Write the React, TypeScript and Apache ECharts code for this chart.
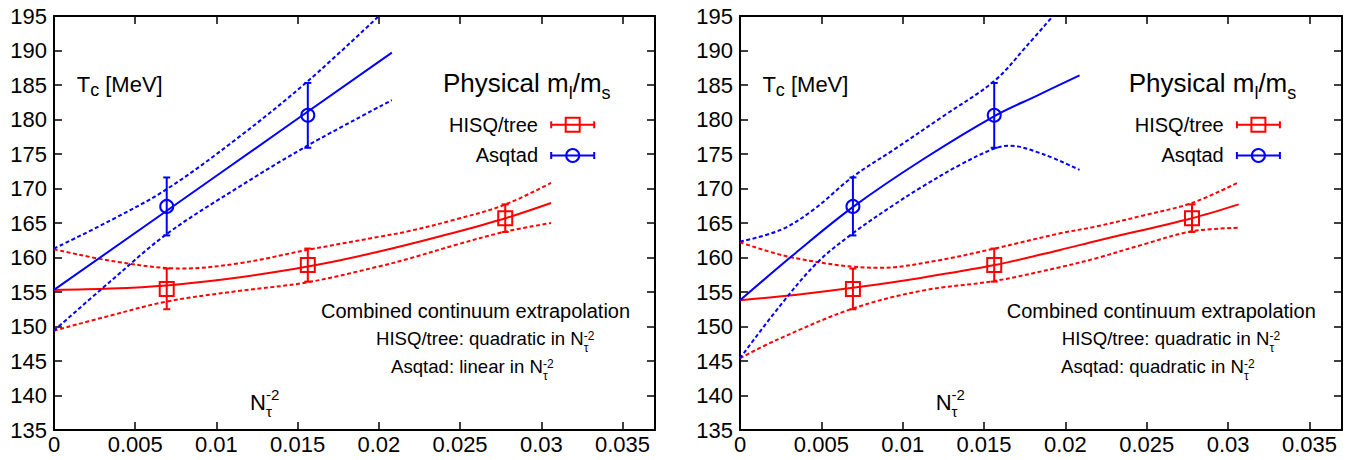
import React, { useEffect, useRef } from 'react';
import * as echarts from 'echarts';

const RED = '#ff0000';
const BLUE = '#0000ff';
const FONT = '"Liberation Sans", Arial, Helvetica, sans-serif';

// axes
const xTicks = [0, 0.005, 0.01, 0.015, 0.02, 0.025, 0.03, 0.035];
const xTickLabels = ['0', '0.005', '0.01', '0.015', '0.02', '0.025', '0.03', '0.035'];
const xMax = 0.037;
const yMin = 135;
const yMax = 195;
const yStep = 5;

// data points (N_tau^-2, Tc, error)
const hisqX = [0.00694, 0.015625, 0.02778];
const hisqT = [155.45, 158.9, 165.7];
const hisqErr = [2.95, 2.4, 2.0];
const asqX = [0.00694, 0.015625];
const asqT = [167.4, 180.6];
const asqErr = [4.2, 4.7];

// left panel: HISQ quadratic, Asqtad linear
const hisqFitLeft = [[0, 155.3], [0.0035, 155.5], [0.00694, 155.95], [0.0104, 156.8], [0.0139, 158.0], [0.0174, 159.5], [0.0208, 161.3], [0.0243, 163.4], [0.0278, 165.7], [0.0306, 167.9]];
const hisqUpperLeft = [[0, 161.2], [0.0038, 159.4], [0.0079, 158.4], [0.0115, 159.2], [0.0156, 161.1], [0.02, 163.0], [0.0218, 163.8], [0.0247, 165.5], [0.0277, 167.6], [0.0306, 170.8]];
const hisqLowerLeft = [[0, 149.4], [0.0035, 151.6], [0.0069, 153.6], [0.0112, 155.1], [0.0156, 156.4], [0.02, 158.7], [0.0218, 159.8], [0.0247, 161.8], [0.0277, 163.7], [0.0306, 165.0]];
const asqFitLeft = [[0, 155.3], [0.0104, 172.5], [0.0208, 189.7]];
const asqUpperLeft = [[0, 161.3], [0.0035, 165.4], [0.00694, 169.9], [0.0113, 177.3], [0.0156, 185.5], [0.02, 195]];
const asqLowerLeft = [[0, 149.4], [0.0035, 156.6], [0.00694, 163.4], [0.0113, 170.1], [0.0156, 176.2], [0.0208, 182.8]];

// right panel: both quadratic
const hisqFitRight = [[0, 153.8], [0.0035, 154.6], [0.00693, 155.6], [0.011, 157.0], [0.01564, 158.9], [0.01968, 161.1], [0.0219, 162.4], [0.02778, 165.7], [0.03065, 167.7]];
const hisqUpperRight = [[0, 162.2], [0.0034, 159.9], [0.0086, 158.5], [0.012, 159.5], [0.01564, 161.3], [0.01968, 163.5], [0.0219, 164.5], [0.0248, 166.1], [0.02778, 167.9], [0.03065, 170.9]];
const hisqLowerRight = [[0, 145.4], [0.0022, 148.0], [0.00693, 152.6], [0.0112, 155.2], [0.01564, 156.6], [0.01968, 158.6], [0.0219, 159.9], [0.0248, 161.9], [0.02778, 163.8], [0.03065, 164.3]];
const asqFitRight = [[0, 153.8], [0.00344, 160.7], [0.00693, 167.3], [0.01123, 174.2], [0.01564, 180.5], [0.0182, 183.4], [0.02087, 186.4]];
const asqUpperRight = [[0, 162.3], [0.0025, 164.0], [0.0045, 166.9], [0.00693, 171.7], [0.0095, 175.7], [0.0125, 180.5], [0.01564, 185.6], [0.0176, 190.6], [0.01923, 195]];
const asqLowerRight = [[0, 145.4], [0.00246, 153.0], [0.00472, 159.2], [0.00693, 163.5], [0.0095, 167.7], [0.01123, 170.3], [0.0135, 173.4], [0.01564, 175.8], [0.01653, 176.2], [0.0186, 175.0], [0.02087, 172.7]];

let measureCtx: CanvasRenderingContext2D | null = null;
function measure(text: string, size: number): number {
  if (!measureCtx) measureCtx = document.createElement('canvas').getContext('2d');
  if (!measureCtx) return text.length * size * 0.55;
  measureCtx.font = `${size}px ${FONT}`;
  return measureCtx.measureText(text).width;
}

function txt(x: number, baseline: number, text: string, size: number, align = 'left') {
  return {
    type: 'text',
    x,
    y: baseline - 0.3465 * size,
    silent: true,
    z: 100,
    style: {
      text,
      font: `${size}px ${FONT}`,
      fill: '#000',
      align,
      verticalAlign: 'middle',
      textAlign: align,
      textVerticalAlign: 'middle',
    },
  };
}

type Part = { t: string; s: number; dy?: number; stack?: boolean };
function run(x0: number, base: number, parts: Part[]): any[] {
  let x = x0;
  const out: any[] = [];
  for (let i = 0; i < parts.length; i++) {
    const p = parts[i];
    out.push(txt(x, base + (p.dy || 0), p.t, p.s));
    const w = measure(p.t, p.s);
    if (p.stack && i + 1 < parts.length) {
      const q = parts[i + 1];
      out.push(txt(x, base + (q.dy || 0), q.t, q.s));
      x += Math.max(w, measure(q.t, q.s));
      i++;
    } else {
      x += w;
    }
  }
  return out;
}

function legendSample(cx: number, cy: number, color: string, kind: 'square' | 'circle') {
  const ls = { stroke: color, lineWidth: 2, fill: 'none' };
  const half = 21.5;
  const els: any[] = [
    { type: 'line', shape: { x1: cx - half, y1: cy, x2: cx + half, y2: cy }, style: ls, silent: true, z: 100 },
    { type: 'line', shape: { x1: cx - half, y1: cy - 3.5, x2: cx - half, y2: cy + 3.5 }, style: ls, silent: true, z: 100 },
    { type: 'line', shape: { x1: cx + half, y1: cy - 3.5, x2: cx + half, y2: cy + 3.5 }, style: ls, silent: true, z: 100 },
  ];
  if (kind === 'square') els.push({ type: 'rect', shape: { x: cx - 7, y: cy - 7, width: 14, height: 14 }, style: ls, silent: true, z: 100 });
  else els.push({ type: 'circle', shape: { cx, cy, r: 6.5 }, style: ls, silent: true, z: 100 });
  return els;
}

function panelTexts(dx: number, asqText: string, hisqLineX: number, asqLineX: number, combinedX: number) {
  const sub = 12;
  return [
    ...run(76.7 + dx, 91.7, [{ t: 'T', s: 22 }, { t: 'c', s: 18, dy: 5 }, { t: ' [MeV]', s: 22 }]),
    ...run(443 + dx, 91.7, [{ t: 'Physical m', s: 26 }, { t: 'l', s: 18, dy: 7.5 }, { t: '/m', s: 26 }, { t: 's', s: 18, dy: 7.5 }]),
    txt(538 + dx, 131.7, 'HISQ/tree', 20, 'right'),
    txt(538 + dx, 161.7, 'Asqtad', 20, 'right'),
    ...legendSample(572.7 + dx, 124.8, RED, 'square'),
    ...legendSample(572.7 + dx, 155.5, BLUE, 'circle'),
    txt(combinedX, 318, 'Combined continuum extrapolation', 20),
    ...run(hisqLineX, 345, [{ t: 'HISQ/tree: quadratic in N', s: 18.6 }, { t: '-2', s: sub, dy: -5, stack: true }, { t: 'τ', s: sub, dy: 7.5 }]),
    ...run(asqLineX, 373, [{ t: asqText, s: 18.6 }, { t: '-2', s: sub, dy: -5, stack: true }, { t: 'τ', s: sub, dy: 7.5 }]),
    ...run(250 + dx, 410, [{ t: 'N', s: 22 }, { t: '-2', s: 15, dy: -10.5, stack: true }, { t: 'τ', s: 15, dy: 6.5 }]),
  ];
}

function errRender(kind: 'square' | 'circle', color: string) {
  return (_params: any, api: any) => {
    const x = api.value(0);
    const y = api.value(1);
    const e = api.value(2);
    const c = api.coord([x, y]);
    const t = api.coord([x, y + e]);
    const b = api.coord([x, y - e]);
    const cap = 3.5;
    const ls = { stroke: color, lineWidth: 2, fill: 'none' };
    const children: any[] = [
      { type: 'line', shape: { x1: c[0], y1: t[1], x2: c[0], y2: b[1] }, style: ls },
      { type: 'line', shape: { x1: c[0] - cap, y1: t[1], x2: c[0] + cap, y2: t[1] }, style: ls },
      { type: 'line', shape: { x1: c[0] - cap, y1: b[1], x2: c[0] + cap, y2: b[1] }, style: ls },
    ];
    if (kind === 'square') children.push({ type: 'rect', shape: { x: c[0] - 7, y: c[1] - 7, width: 14, height: 14 }, style: ls });
    else children.push({ type: 'circle', shape: { cx: c[0], cy: c[1], r: 6.5 }, style: ls });
    return { type: 'group', children };
  };
}

function curve(data: number[][], color: string, dashed: boolean, axis: number) {
  return {
    type: 'line',
    xAxisIndex: axis * 2,
    yAxisIndex: axis * 2,
    data,
    symbol: 'none',
    showSymbol: false,
    smooth: 0.35,
    silent: true,
    lineStyle: { color, width: 2, type: dashed ? [4, 2.5] : 'solid' },
    z: 3,
  };
}

function points(xs: number[], ts: number[], es: number[]) {
  return xs.map((x, i) => [x, ts[i], es[i]]);
}

function xAxisPair(grid: number) {
  const common = {
    gridIndex: grid,
    type: 'value',
    min: 0,
    max: xMax,
    interval: 0.005,
    axisLine: { show: true, onZero: false, lineStyle: { color: '#000', width: 2 } },
    axisTick: { show: true, inside: true, length: 8, lineStyle: { color: '#000', width: 1.5 } },
    splitLine: { show: false },
  };
  return [
    {
      ...common,
      position: 'bottom',
      axisLabel: {
        show: true,
        fontSize: 22,
        fontFamily: FONT,
        color: '#000',
        margin: 3,
        showMaxLabel: false,
        formatter: (v: number) => {
          const i = xTicks.findIndex((t) => Math.abs(t - v) < 1e-9);
          return i >= 0 ? xTickLabels[i] : '';
        },
      },
    },
    { ...common, position: 'top', axisLabel: { show: false } },
  ];
}

function yAxisPair(grid: number) {
  const common = {
    gridIndex: grid,
    type: 'value',
    min: yMin,
    max: yMax,
    interval: yStep,
    axisLine: { show: true, onZero: false, lineStyle: { color: '#000', width: 2 } },
    axisTick: { show: true, inside: true, length: 8, lineStyle: { color: '#000', width: 1.5 } },
    splitLine: { show: false },
  };
  return [
    { ...common, position: 'left', axisLabel: { show: true, fontSize: 22, fontFamily: FONT, color: '#000', margin: 7 } },
    { ...common, position: 'right', axisLabel: { show: false } },
  ];
}

export default function App() {
  const ref = useRef<HTMLDivElement>(null);
  useEffect(() => {
    if (!ref.current) return;
    const chart = echarts.init(ref.current, undefined, { renderer: 'svg' });
    const hisqPts = points(hisqX, hisqT, hisqErr);
    const asqPts = points(asqX, asqT, asqErr);
    const option: any = {
      animation: false,
      backgroundColor: '#fff',
      grid: [
        { left: 54, top: 16, width: 601, height: 414 },
        { left: 740, top: 16, width: 602, height: 414 },
      ],
      xAxis: [...xAxisPair(0), ...xAxisPair(1)],
      yAxis: [...yAxisPair(0), ...yAxisPair(1)],
      series: [
        curve(hisqUpperLeft, RED, true, 0),
        curve(hisqLowerLeft, RED, true, 0),
        curve(hisqFitLeft, RED, false, 0),
        curve(asqUpperLeft, BLUE, true, 0),
        curve(asqLowerLeft, BLUE, true, 0),
        curve(asqFitLeft, BLUE, false, 0),
        curve(hisqUpperRight, RED, true, 1),
        curve(hisqLowerRight, RED, true, 1),
        curve(hisqFitRight, RED, false, 1),
        curve(asqUpperRight, BLUE, true, 1),
        curve(asqLowerRight, BLUE, true, 1),
        curve(asqFitRight, BLUE, false, 1),
        { type: 'custom', coordinateSystem: 'cartesian2d', xAxisIndex: 0, yAxisIndex: 0, data: hisqPts, encode: { x: 0, y: 1 }, renderItem: errRender('square', RED), silent: true, z: 5 },
        { type: 'custom', coordinateSystem: 'cartesian2d', xAxisIndex: 0, yAxisIndex: 0, data: asqPts, encode: { x: 0, y: 1 }, renderItem: errRender('circle', BLUE), silent: true, z: 5 },
        { type: 'custom', coordinateSystem: 'cartesian2d', xAxisIndex: 2, yAxisIndex: 2, data: hisqPts, encode: { x: 0, y: 1 }, renderItem: errRender('square', RED), silent: true, z: 5 },
        { type: 'custom', coordinateSystem: 'cartesian2d', xAxisIndex: 2, yAxisIndex: 2, data: asqPts, encode: { x: 0, y: 1 }, renderItem: errRender('circle', BLUE), silent: true, z: 5 },
      ],
      graphic: [
        ...panelTexts(0, 'Asqtad: linear in N', 376, 391, 321),
        ...panelTexts(685.7, 'Asqtad: quadratic in N', 1061.7, 1061, 1006.7),
      ],
    };
    chart.setOption(option);
    return () => chart.dispose();
  }, []);
  return (
    <div
      ref={ref}
      style={{ position: 'absolute', left: 0, top: 0, width: 1360, height: 460, background: '#fff' }}
    />
  );
}
